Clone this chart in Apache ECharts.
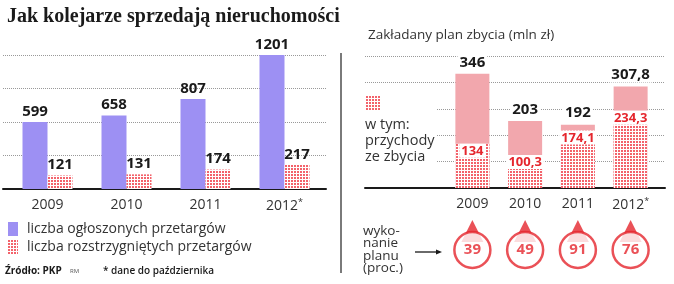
<!DOCTYPE html>
<html>
<head>
<meta charset="utf-8">
<script src="https://cdn.jsdelivr.net/npm/echarts@6/dist/echarts.min.js"></script>
<style>
  html, body { margin: 0; padding: 0; background: #fff; }
  #chart { width: 674px; height: 284px; }
</style>
</head>
<body>
<div id="chart"></div>
<script>
const years = ['2009', '2010', '2011', '2012']
const announced = [599, 658, 807, 1201]   // liczba ogłoszonych przetargów
const settled = [121, 131, 174, 217]      // liczba rozstrzygniętych przetargów
const planned = [346, 203, 192, 307.8]    // zakładany plan zbycia (mln zł)
const revenue = [134, 100.3, 174.1, 234.3] // w tym: przychody ze zbycia
const fulfilment = [39, 49, 91, 76]       // wykonanie planu (proc.)
const leftTicks = [0, 300, 600, 900, 1200]
const rightTicks = [0, 80, 160, 240, 320, 400]

const RED = '#e5262d'
const PINK = '#f2a7ad'
const PURPLE = '#9d90f3'
const FONT = '"Open Sans", sans-serif'

// red dotted fill
function makeDots() {
  const c = document.createElement('canvas')
  c.width = 3
  c.height = 3
  const ctx = c.getContext('2d')
  ctx.fillStyle = '#fff'
  ctx.fillRect(0, 0, 3, 3)
  ctx.fillStyle = '#f3636b'
  ctx.fillRect(0, 0, 2, 2)
  return { image: c, repeat: 'repeat' }
}
const dots = makeDots()

const comma = v => String(v).replace('.', ',')
const yearLabel = v => (v === '2012' ? '{y|2012}{s|*}' : '{y|' + v + '}')
const yearRich = {
  y: { fontFamily: FONT, fontSize: 14, color: '#333' },
  s: { fontFamily: FONT, fontSize: 9, color: '#333', verticalAlign: 'top', padding: [0, 0, 8, 0] }
}
const dotted = { show: true, lineStyle: { color: '#999', type: 'dotted', width: 1 } }
const baseline = { show: true, lineStyle: { color: '#1a1a1a', width: 2 } }
const bigLabel = { show: true, position: 'top', distance: 3, fontFamily: FONT, fontWeight: 'bold', fontSize: 15, color: '#1a1a1a' }

const chart = echarts.init(document.getElementById('chart'))

chart.setOption({
  animation: false,
  title: [
    {
      text: 'Jak kolejarze sprzedają nieruchomości',
      left: 2, top: 2,
      textStyle: { fontFamily: '"Liberation Serif", serif', fontWeight: 'bold', fontSize: 20, color: '#1a1a1a' }
    },
    {
      text: 'Zakładany plan zbycia (mln zł)',
      left: 363, top: 23,
      textStyle: { fontFamily: FONT, fontWeight: 'normal', fontSize: 13.5, color: '#333' }
    }
  ],
  legend: {
    orient: 'vertical',
    left: 3, top: 217,
    itemWidth: 10, itemHeight: 14, itemGap: 4,
    icon: 'rect',
    data: ['liczba ogłoszonych przetargów', 'liczba rozstrzygniętych przetargów'],
    textStyle: { fontFamily: FONT, fontSize: 14, color: '#333', padding: [0, 0, 0, 4] }
  },
  grid: [
    { left: 3, top: 55, width: 323, height: 134 },
    { left: 8, top: 55, width: 316, height: 134 },
    { left: 365, top: 56, width: 300, height: 132 },
    { left: 446, top: 56, width: 211, height: 132 },
    { left: 446, top: 225, width: 211, height: 50 }
  ],
  xAxis: [
    { gridIndex: 0, type: 'category', data: [''], axisLine: baseline, axisTick: { show: false }, axisLabel: { show: false } },
    { gridIndex: 1, type: 'category', data: years, axisLine: { show: false }, axisTick: { show: false },
      axisLabel: { interval: 0, margin: 9, formatter: yearLabel, rich: yearRich } },
    { gridIndex: 2, type: 'category', data: [''], axisLine: baseline, axisTick: { show: false }, axisLabel: { show: false } },
    { gridIndex: 3, type: 'category', data: years, axisLine: { show: false }, axisTick: { show: false },
      axisLabel: { interval: 0, margin: 9, formatter: yearLabel, rich: yearRich } },
    { gridIndex: 4, type: 'category', data: years, show: false }
  ],
  yAxis: [
    { gridIndex: 0, type: 'value', min: leftTicks[0], max: leftTicks[leftTicks.length - 1], interval: leftTicks[1] - leftTicks[0],
      axisLabel: { show: false }, axisLine: { show: false }, axisTick: { show: false }, splitLine: dotted },
    { gridIndex: 1, type: 'value', min: leftTicks[0], max: leftTicks[leftTicks.length - 1], show: false, splitLine: { show: false } },
    { gridIndex: 2, type: 'value', min: rightTicks[0], max: rightTicks[rightTicks.length - 1], interval: rightTicks[1] - rightTicks[0],
      axisLabel: { show: false }, axisLine: { show: false }, axisTick: { show: false }, splitLine: dotted },
    { gridIndex: 3, type: 'value', min: rightTicks[0], max: rightTicks[rightTicks.length - 1], show: false, splitLine: { show: false } },
    { gridIndex: 4, type: 'category', data: ['plan'], show: false }
  ],
  series: [
    {
      name: 'liczba ogłoszonych przetargów',
      type: 'bar', xAxisIndex: 1, yAxisIndex: 1,
      barWidth: 25, barGap: 0,
      itemStyle: { color: PURPLE },
      label: bigLabel,
      data: announced
    },
    {
      name: 'liczba rozstrzygniętych przetargów',
      type: 'bar', xAxisIndex: 1, yAxisIndex: 1,
      barWidth: 25, barGap: 0,
      itemStyle: { color: dots },
      label: bigLabel,
      data: settled
    },
    {
      name: 'plan',
      type: 'bar', xAxisIndex: 3, yAxisIndex: 3,
      barWidth: 34, barGap: '-100%',
      itemStyle: { color: PINK },
      label: Object.assign({}, bigLabel, { distance: 4, backgroundColor: '#fff', padding: [0, 2],
        formatter: p => comma(p.value) }),
      data: planned
    },
    {
      name: 'przychody',
      type: 'bar', xAxisIndex: 3, yAxisIndex: 3,
      barWidth: 34, barGap: '-100%',
      itemStyle: { color: dots },
      label: { show: true, position: 'insideTop', distance: 0, fontFamily: FONT, fontWeight: 'bold', fontSize: 13,
        color: RED, backgroundColor: '#fff', padding: [1, 2, 0, 2], formatter: p => comma(p.value) },
      data: revenue
    },
    {
      name: 'wykonanie-szpic',
      type: 'scatter', xAxisIndex: 4, yAxisIndex: 4,
      symbol: 'triangle', symbolSize: [22, 22], symbolOffset: [0, -19],
      itemStyle: { color: RED },
      z: 3,
      data: fulfilment.map((v, i) => [years[i], 'plan', v])
    },
    {
      name: 'wykonanie',
      type: 'scatter', xAxisIndex: 4, yAxisIndex: 4,
      symbol: 'circle', symbolSize: 36,
      itemStyle: { color: '#fff', borderColor: RED, borderWidth: 2.5 },
      z: 4,
      label: { show: true, position: 'inside', fontFamily: FONT, fontWeight: 'bold', fontSize: 15, color: RED,
        formatter: p => p.value[2] },
      data: fulfilment.map((v, i) => [years[i], 'plan', v])
    }
  ],
  graphic: [
    // separator between panels
    { type: 'rect', z: 100, shape: { x: 340, y: 53, width: 2, height: 220 }, style: { fill: '#7a7a7a' } },
    // hide grid lines behind the inner legend
    { type: 'rect', z: 100, shape: { x: 362, y: 100, width: 74, height: 72 }, style: { fill: '#fff' } },
    { type: 'rect', z: 101, shape: { x: 365, y: 95, width: 15, height: 16 }, style: { fill: dots } },
    { type: 'text', z: 101, left: 365, top: 117,
      style: { text: 'w tym:\nprzychody\nze zbycia', font: '14.5px "Open Sans", sans-serif', fill: '#333', lineHeight: 16 } },
    { type: 'text', z: 101, left: 363, top: 224,
      style: { text: 'wyko-\nnanie\nplanu\n(proc.)', font: '13.5px "Open Sans", sans-serif', fill: '#333', lineHeight: 12.5 } },
    // arrow to the drops
    { type: 'line', z: 101, shape: { x1: 415, y1: 252, x2: 437, y2: 252 }, style: { stroke: '#1a1a1a', lineWidth: 1.3 } },
    { type: 'polygon', z: 101, shape: { points: [[442, 252], [436, 249.5], [436, 254.5]] }, style: { fill: '#1a1a1a' } },
    // source line
    { type: 'text', z: 101, left: 5, top: 266,
      style: { text: 'Źródło: PKP', font: 'bold 10px "Open Sans", sans-serif', fill: '#1a1a1a' } },
    { type: 'text', z: 101, left: 70, top: 268,
      style: { text: 'RM', font: '6px "Open Sans", sans-serif', fill: '#555' } },
    { type: 'text', z: 101, left: 103, top: 266,
      style: { text: '* dane do października', font: '600 10px "Open Sans", sans-serif', fill: '#1a1a1a' } }
  ]
})
</script>
</body>
</html>
